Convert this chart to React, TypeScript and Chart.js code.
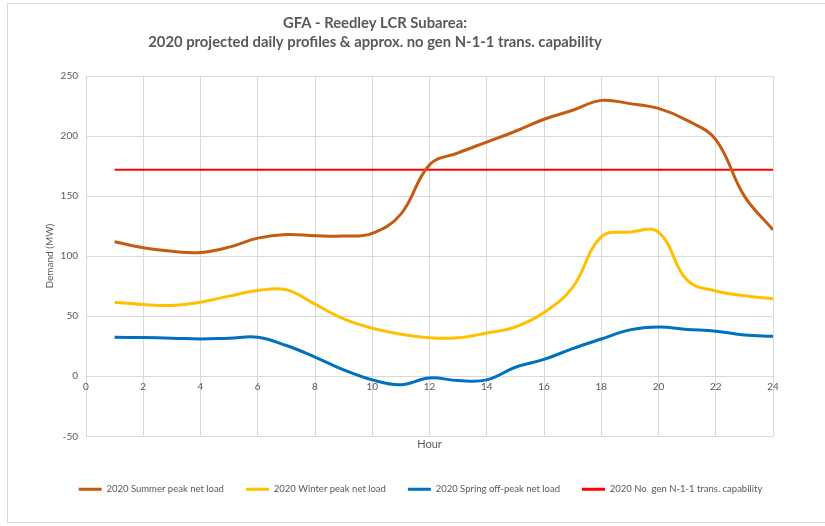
import React, { useEffect, useRef } from "react";
import { Chart, registerables } from "chart.js";

Chart.register(...registerables);

const hours = [1, 2, 3, 4, 5, 6, 7, 8, 9, 10, 11, 12, 13, 14, 15, 16, 17, 18, 19, 20, 21, 22, 23, 24];
const summerPeak = [112, 107, 104, 103, 107.5, 115, 118, 117, 116.7, 119, 135, 176, 186, 195, 204, 214, 221.5, 229.7, 227, 223, 213, 197, 150, 122];
const winterPeak = [61.7, 59.7, 59, 61.7, 66.7, 71.4, 72, 60, 47.8, 40, 35, 32, 32, 36, 41, 53, 74, 116, 120, 120, 80, 71, 67, 64.5];
const springOffPeak = [32.5, 32.2, 31.7, 31, 31.7, 32.5, 25.6, 16, 5.3, -3, -7, -1.4, -3.6, -3, 7.5, 14, 23, 31, 38.6, 41, 39, 37.5, 34.4, 33.3];
const transCapability = [172, 172, 172, 172, 172, 172, 172, 172, 172, 172, 172, 172, 172, 172, 172, 172, 172, 172, 172, 172, 172, 172, 172, 172];

const seriesNames = [
  "2020 Summer peak net load",
  "2020 Winter peak net load",
  "2020 Spring off-peak net load",
  "2020 No  gen N-1-1 trans. capability",
];
const titleLines = [
  "GFA - Reedley LCR Subarea:",
  "2020 projected daily profiles & approx. no gen N-1-1 trans. capability",
];
const xTicks = { min: 0, max: 24, step: 2 };
const yTicks = { min: -50, max: 250, step: 50 };

const FONT = "Lato, 'Open Sans', sans-serif";
const TEXT = "#595959";
const GRID = "#d9d9d9";

const framePlugin = {
  id: "frame",
  beforeDraw(chart: any) {
    const { ctx, width, height } = chart;
    ctx.save();
    ctx.fillStyle = "#ffffff";
    ctx.fillRect(0, 0, width, height);
    ctx.strokeStyle = GRID;
    ctx.lineWidth = 1;
    ctx.strokeRect(7.5, 3.5, width + 10, 519);
    ctx.restore();
  },
};

const titlePlugin = {
  id: "offsetTitle",
  afterDraw(chart: any) {
    const { ctx } = chart;
    ctx.save();
    ctx.fillStyle = TEXT;
    ctx.font = `bold 14.8px ${FONT}`;
    ctx.textAlign = "center";
    ctx.textBaseline = "middle";
    ctx.fillText(titleLines[0], 375, 23);
    ctx.fillText(titleLines[1], 375, 42);
    ctx.restore();
  },
};

export default function App() {
  const ref = useRef<HTMLCanvasElement | null>(null);
  useEffect(() => {
    document.body.style.margin = "0";
    const toPts = (vals: number[]) => hours.map((h, i) => ({ x: h, y: vals[i] }));
    const mk = (label: string, vals: number[], color: string, w: number) => ({
      label,
      data: toPts(vals),
      borderColor: color,
      backgroundColor: color,
      borderWidth: w,
      pointRadius: 0,
      tension: 0.4,
      fill: false,
    });
    const chart = new Chart(ref.current as HTMLCanvasElement, {
      type: "line",
      data: {
        datasets: [
          mk(seriesNames[0], summerPeak, "#C55A11", 3),
          mk(seriesNames[1], winterPeak, "#FFC000", 3),
          mk(seriesNames[2], springOffPeak, "#0070C0", 3),
          mk(seriesNames[3], transCapability, "#FF0000", 2),
        ],
      },
      options: {
        animation: false,
        responsive: false,
        layout: { padding: { left: 16, right: 0, top: 76, bottom: 22 } },
        plugins: {
          title: { display: false },
          legend: {
            position: "bottom",
            labels: {
              color: TEXT,
              font: { family: FONT, size: 9.5 },
              boxWidth: 23,
              boxHeight: 3,
              padding: 22,
              generateLabels(chart: any) {
                const items = Chart.defaults.plugins.legend.labels.generateLabels(chart);
                return items.map((it: any) => ({ ...it, lineWidth: 0 }));
              },
            },
          },
          tooltip: { enabled: false },
        },
        scales: {
          x: {
            type: "linear",
            position: { y: 0 } as any,
            min: xTicks.min,
            max: xTicks.max,
            grid: { color: GRID, drawTicks: false },
            border: { display: false },
            ticks: {
              stepSize: xTicks.step,
              color: TEXT,
              font: { family: FONT, size: 10 },
              padding: 5,
            },
          },
          x2: {
            type: "linear",
            position: "bottom",
            min: xTicks.min,
            max: xTicks.max,
            grid: { display: false, drawTicks: false, tickLength: 0 },
            border: { display: false },
            ticks: { display: false },
            title: {
              display: true,
              text: "Hour",
              color: TEXT,
              font: { family: FONT, size: 11 },
              padding: { top: 2, bottom: 11 },
            },
          },
          y: {
            min: yTicks.min,
            max: yTicks.max,
            grid: { color: GRID, drawTicks: false },
            border: { display: false },
            ticks: {
              stepSize: yTicks.step,
              color: TEXT,
              font: { family: FONT, size: 10 },
              padding: 8,
            },
            title: {
              display: true,
              text: "Demand (MW)",
              color: TEXT,
              font: { family: FONT, size: 10 },
              padding: { top: 28, bottom: 0 },
            },
            afterFit(scale: any) {
              scale.width = 70;
            },
          },
          yRight: {
            position: "right",
            min: yTicks.min,
            max: yTicks.max,
            grid: { display: false, drawTicks: false },
            border: { display: false },
            ticks: { display: false },
            afterFit(scale: any) {
              scale.width = 52;
            },
          },
        },
      },
      plugins: [framePlugin, titlePlugin],
    } as any);
    return () => chart.destroy();
  }, []);
  return <canvas ref={ref} width={825} height={526} style={{ display: "block" }} />;
}
